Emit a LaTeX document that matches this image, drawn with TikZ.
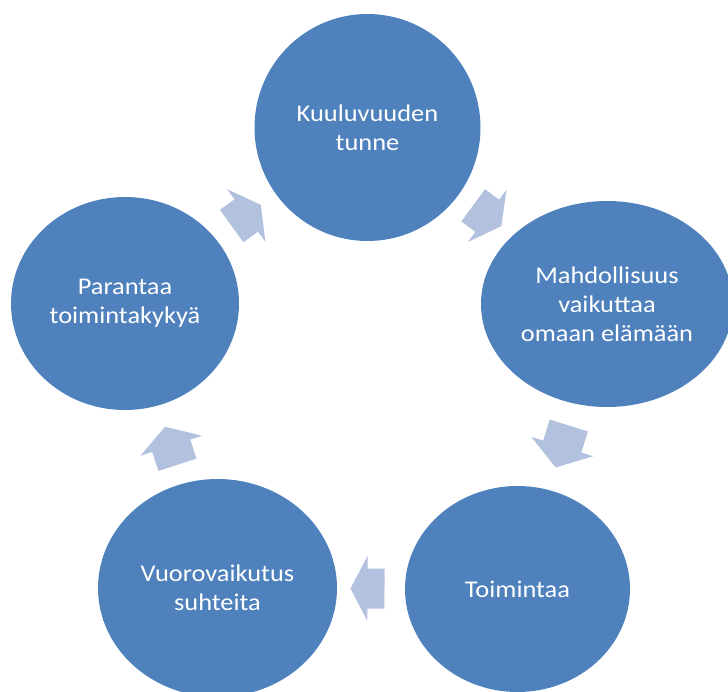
\documentclass[tikz,border=0pt]{standalone}
\usepackage{fontspec}
\setmainfont[FakeStretch=1.1]{Carlito}
\usetikzlibrary{shapes.geometric}
\definecolor{cycleblue}{HTML}{4F81BD}
\definecolor{arrowblue}{HTML}{B2C2DE}

\begin{document}
\begin{tikzpicture}[x=1pt,y=-1pt,
	bubble/.style={ellipse,fill=cycleblue,inner sep=0pt,text=white,align=center,font=\fontsize{24}{29}\selectfont},
	cyclearrow/.pic={\fill[arrowblue] (-#1/2,-20) -- (0,-20) -- (0,-32.5) -- (#1/2,0) -- (0,32.5) -- (0,20) -- (-#1/2,20) -- cycle;}]

\clip (0,0) rectangle (728,691);

\node[bubble,minimum width=226,minimum height=227] (kuuluvuus) at (367.5,127.5) {Kuuluvuuden\\tunne};
\node[bubble,minimum width=252,minimum height=206] (mahdollisuus) at (607,304) {Mahdollisuus\\vaikuttaa\\omaan elämään};
\node[bubble,minimum width=225,minimum height=206] (toiminta) at (517.5,589) {Toimintaa};
\node[bubble,minimum width=239,minimum height=218] (vuorovaikutus) at (217.5,588) {Vuorovaikutus\\suhteita};
\node[bubble,minimum width=228,minimum height=213] (toimintakyky) at (125,303.5) {Parantaa\\toimintakykyä};

% nuolet keskipisteiden puoliväliin
\path (toimintakyky.center) -- (kuuluvuus.center) pic[pos=0.5,sloped,allow upside down] {cyclearrow=36};
\path (kuuluvuus.center) -- (mahdollisuus.center) pic[pos=0.5,sloped,allow upside down] {cyclearrow=35};
\path (mahdollisuus.center) -- (toiminta.center) pic[pos=0.5,sloped,allow upside down] {cyclearrow=44};
\path (toiminta.center) -- (vuorovaikutus.center) pic[pos=0.5,sloped,allow upside down] {cyclearrow=34};
\path (vuorovaikutus.center) -- (toimintakyky.center) pic[pos=0.5,sloped,allow upside down] {cyclearrow=40};

\end{tikzpicture}
\end{document}
